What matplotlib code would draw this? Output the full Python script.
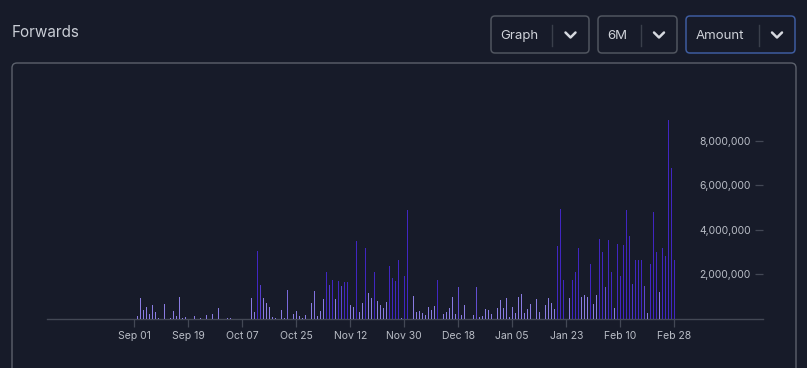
import matplotlib
matplotlib.use("Agg")
import matplotlib.pyplot as plt
import matplotlib.dates as mdates
from matplotlib.patches import FancyBboxPatch
from matplotlib.lines import Line2D
import numpy as np
import datetime as dt

# ---------------- data ----------------
dates = [
    "2022-09-02", "2022-09-03", "2022-09-04", "2022-09-05", "2022-09-06", "2022-09-07", "2022-09-08",
    "2022-09-09", "2022-09-11", "2022-09-13", "2022-09-14", "2022-09-15", "2022-09-16", "2022-09-17",
    "2022-09-18", "2022-09-21", "2022-09-23", "2022-09-25", "2022-09-27", "2022-09-29",
    "2022-10-02", "2022-10-03", "2022-10-10", "2022-10-11", "2022-10-12", "2022-10-13", "2022-10-14",
    "2022-10-15", "2022-10-16", "2022-10-17", "2022-10-18", "2022-10-20", "2022-10-21", "2022-10-22",
    "2022-10-24", "2022-10-25", "2022-10-26", "2022-10-27", "2022-10-28", "2022-10-30", "2022-10-31",
    "2022-11-01", "2022-11-02", "2022-11-03", "2022-11-04", "2022-11-05", "2022-11-06", "2022-11-07",
    "2022-11-08", "2022-11-09", "2022-11-10", "2022-11-11", "2022-11-12", "2022-11-13", "2022-11-14",
    "2022-11-15", "2022-11-16", "2022-11-17", "2022-11-18", "2022-11-19", "2022-11-20", "2022-11-21",
    "2022-11-22", "2022-11-23", "2022-11-24", "2022-11-25", "2022-11-26", "2022-11-27", "2022-11-28",
    "2022-11-29", "2022-11-30",
    "2022-12-01", "2022-12-03", "2022-12-04", "2022-12-05", "2022-12-06", "2022-12-07", "2022-12-08",
    "2022-12-09", "2022-12-10", "2022-12-11", "2022-12-13", "2022-12-14", "2022-12-15", "2022-12-16",
    "2022-12-17", "2022-12-18", "2022-12-19", "2022-12-20", "2022-12-23", "2022-12-24", "2022-12-25",
    "2022-12-26", "2022-12-27", "2022-12-28", "2022-12-29", "2022-12-31",
    "2023-01-01", "2023-01-02", "2023-01-03", "2023-01-04", "2023-01-05", "2023-01-06", "2023-01-07",
    "2023-01-08", "2023-01-09", "2023-01-10", "2023-01-11", "2023-01-13", "2023-01-14", "2023-01-16",
    "2023-01-17", "2023-01-18", "2023-01-19", "2023-01-20", "2023-01-21", "2023-01-22", "2023-01-24",
    "2023-01-25", "2023-01-26", "2023-01-27", "2023-01-28", "2023-01-29", "2023-01-30", "2023-01-31",
    "2023-02-01", "2023-02-02", "2023-02-03", "2023-02-04", "2023-02-05", "2023-02-06", "2023-02-07",
    "2023-02-08", "2023-02-09", "2023-02-10", "2023-02-11", "2023-02-12", "2023-02-13", "2023-02-14",
    "2023-02-15", "2023-02-16", "2023-02-17", "2023-02-18", "2023-02-19", "2023-02-20", "2023-02-21",
    "2023-02-22", "2023-02-23", "2023-02-24", "2023-02-25", "2023-02-26", "2023-02-27", "2023-02-28",
]
amounts_m = [
    0.13, 0.94, 0.40, 0.54, 0.22, 0.63, 0.31,
    0.04, 0.67, 0.04, 0.36, 0.13, 0.99, 0.04,
    0.09, 0.13, 0.04, 0.18, 0.22, 0.49,
    0.04, 0.04, 0.94, 0.31, 3.06, 1.53, 0.94,
    0.72, 0.54, 0.09, 0.04, 0.40, 0.04, 1.30,
    0.22, 0.36, 0.13, 0.04, 0.18, 0.72, 1.26,
    0.13, 0.36, 0.90, 2.11, 1.53, 1.75, 0.90,
    1.70, 1.48, 1.66, 1.66, 0.63, 0.54, 3.50,
    0.31, 0.72, 3.19, 1.17, 0.94, 2.11, 0.81,
    0.63, 0.49, 0.76, 2.38, 1.84, 1.70, 2.65,
    0.04, 1.93,
    4.88, 1.03, 0.31, 0.36, 0.27, 0.18, 0.54,
    0.40, 0.58, 1.75, 0.22, 0.33, 0.49, 0.99,
    0.22, 1.44, 0.18, 0.63, 0.18, 1.44, 0.09,
    0.13, 0.45, 0.40, 0.22, 0.49,
    0.85, 0.49, 0.94, 0.09, 0.54, 0.27, 0.99,
    1.12, 0.27, 0.45, 0.67, 0.90, 0.31, 0.63,
    0.94, 0.72, 0.45, 3.28, 4.94, 1.75, 0.94,
    1.75, 2.11, 3.19, 0.99, 1.08, 0.99, 2.47,
    0.67, 1.08, 3.60, 3.00, 1.44, 3.55, 2.11,
    0.49, 3.37, 1.93, 3.33, 4.90, 3.73, 1.57,
    2.65, 2.65, 2.65, 1.48, 0.27, 2.47, 4.81,
    3.00, 1.21, 3.19, 2.83, 8.94, 6.79, 2.65,
]
x_tick_dates = ["2022-09-01", "2022-09-19", "2022-10-07", "2022-10-25", "2022-11-12", "2022-11-30",
                "2022-12-18", "2023-01-05", "2023-01-23", "2023-02-10", "2023-02-28"]
y_ticks = [2_000_000, 4_000_000, 6_000_000, 8_000_000]
title = "Forwards"
dropdowns = ["Graph", "6M", "Amount"]

# ---------------- styling ----------------
W, H = 807, 368
BG = "#171b29"
FONT = ["Inter", "DejaVu Sans"]
plt.rcParams["font.family"] = FONT

fig = plt.figure(figsize=(W / 100, H / 100), dpi=100, facecolor=BG)

def px(x, y):
    """pixel (top-left origin) -> inches for dpi_scale_trans"""
    return x / 100, (H - y) / 100

# panel frame
x0, y0 = px(12, 400)
x1, y1 = px(796, 63)
panel = FancyBboxPatch((x0, y0), x1 - x0, y1 - y0,
                       boxstyle="round,pad=0,rounding_size=0.05",
                       transform=fig.dpi_scale_trans, facecolor="none",
                       edgecolor="#5c616c", lw=1.0, zorder=1)
fig.add_artist(panel)

# title
tx, ty = px(11.5, 32.5)
fig.text(tx / (W / 100), ty / (H / 100), title, color="#c9cdd5", fontsize=11,
         va="center", ha="left")

# dropdowns
boxes = [(491, 589, 552, "#50555f"), (598, 677, 641, "#50555f"), (686, 795, 759, "#3e5c9f")]
for label, (bx0, bx1, div, ec) in zip(dropdowns, boxes):
    a0, b0 = px(bx0, 53)
    a1, b1 = px(bx1, 16)
    fig.add_artist(FancyBboxPatch((a0, b0), a1 - a0, b1 - b0,
                                  boxstyle="round,pad=0,rounding_size=0.04",
                                  transform=fig.dpi_scale_trans, facecolor="none",
                                  edgecolor=ec, lw=1.1))
    lx, ly = px(bx0 + 9.5, 36)
    fig.text(lx / (W / 100), ly / (H / 100), label, color="#d0d3da", fontsize=9.5,
             va="center", ha="left")
    dxa, dya = px(div, 25)
    dxb, dyb = px(div, 46)
    fig.add_artist(Line2D([dxa, dxb], [dya, dyb], transform=fig.dpi_scale_trans,
                          color="#3a3f4b", lw=1.0))
    cx = (div + bx1) / 2
    pts = [px(cx - 5, 32.5), px(cx, 37.5), px(cx + 5, 32.5)]
    fig.add_artist(Line2D([p[0] for p in pts], [p[1] for p in pts],
                          transform=fig.dpi_scale_trans, color="#d6d9df", lw=1.8,
                          solid_capstyle="round", solid_joinstyle="round"))

# axes: x from 47px to 763px, y baseline at 319px, top at 107.6px
ax_l, ax_r = 47, 763
ax_b, ax_t = 319, 107.6
ax = fig.add_axes([ax_l / W, (H - ax_b) / H, (ax_r - ax_l) / W, (ax_b - ax_t) / H])
ax.set_facecolor("none")

x = mdates.date2num([dt.datetime.strptime(d, "%Y-%m-%d") for d in dates])
vals = np.array(amounts_m) * 1e6

light = np.array(matplotlib.colors.to_rgb("#8a7ce2"))
dark = np.array(matplotlib.colors.to_rgb("#4126c2"))
t = np.clip((np.array(amounts_m) - 1.2) / 0.45, 0, 1)
colors = [tuple(light * (1 - ti) + dark * ti) for ti in t]

ax.bar(x, vals, width=0.42, color=colors, linewidth=0, antialiased=False, zorder=3)

start = mdates.date2num(dt.datetime(2022, 9, 1))
ax.set_xlim(start - 29.1, start + 209.6)
ax.set_ylim(0, 9.5e6)

ax.set_xticks(mdates.date2num([dt.datetime.strptime(d, "%Y-%m-%d") for d in x_tick_dates]))
ax.xaxis.set_major_formatter(mdates.DateFormatter("%b %d"))
ax.set_yticks(y_ticks)
ax.set_yticklabels([f"{v:,.0f}" for v in y_ticks])

for s in ["top", "left", "right"]:
    ax.spines[s].set_visible(False)
ax.spines["bottom"].set_color("#434855")
ax.spines["bottom"].set_linewidth(1.0)

ax.yaxis.tick_right()
ax.tick_params(axis="x", direction="out", length=5.8, width=0.9, color="#434855",
               labelcolor="#b9bdc6", labelsize=7.5, pad=2.5)
ax.tick_params(axis="y", direction="in", length=5.8, width=0.9, color="#434855",
               labelcolor="#b9bdc6", labelsize=7.5, pad=-8.9)
for lab in ax.get_yticklabels():
    lab.set_horizontalalignment("right")

fig.savefig("out.png", dpi=100, facecolor=BG)
